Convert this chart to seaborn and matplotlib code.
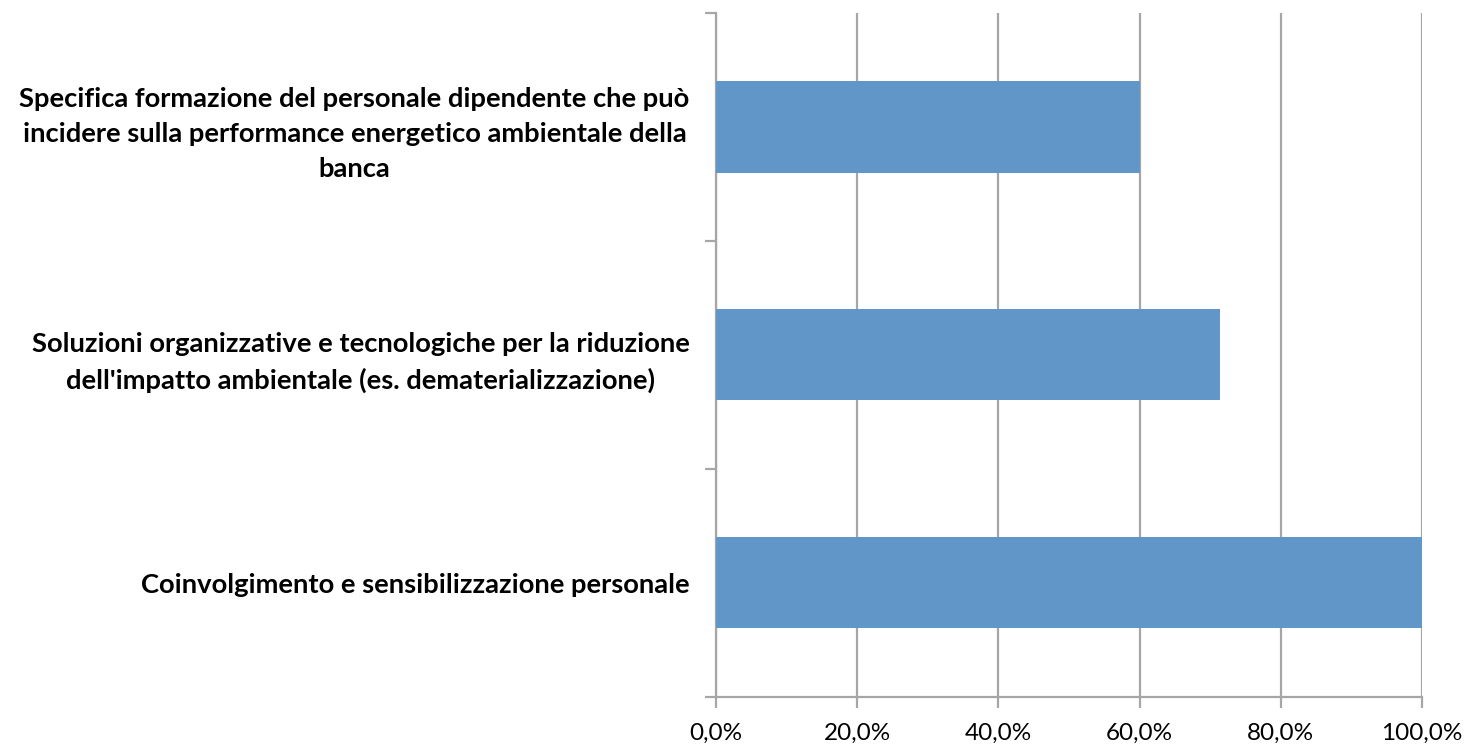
import matplotlib
matplotlib.use("Agg")
import matplotlib.pyplot as plt
import seaborn as sns
import pandas as pd
from matplotlib.ticker import FuncFormatter, FixedLocator

categories = [
    "Specifica formazione del personale dipendente che può\nincidere sulla performance energetico ambientale della\nbanca",
    "Soluzioni organizzative e tecnologiche per la riduzione\ndell'impatto ambientale (es. dematerializzazione)",
    "Coinvolgimento e sensibilizzazione personale",
]
values = [60.0, 71.4, 100.0]
x_ticks = [0, 20, 40, 60, 80, 100]

df = pd.DataFrame({"categoria": categories, "valore": values})

sns.set_style("white")
plt.rcParams["font.family"] = ["Lato", "DejaVu Sans"]
plt.rcParams["text.color"] = "black"
plt.rcParams["xtick.color"] = "black"
plt.rcParams["ytick.color"] = "black"

fig = plt.figure(figsize=(14.66, 7.45), dpi=100)
ax = fig.add_axes([716/1466, 1 - 696.7/745, (1422 - 716)/1466, (696.7 - 13)/745])

grid_c = "#A6A6A6"
sns.barplot(data=df, x="valore", y="categoria", orient="h", color="#6096C8",
            saturation=1, width=0.4, linewidth=0, ax=ax, zorder=3)

ax.set_xlim(0, 100)
ax.set_ylim(2.5, -0.5)
ax.xaxis.set_major_locator(FixedLocator(x_ticks))
ax.xaxis.set_major_formatter(FuncFormatter(lambda v, p: f"{v:.1f}%".replace(".", ",")))
ax.grid(axis="x", color=grid_c, linewidth=1.6, zorder=0)
ax.grid(axis="y", visible=False)
ax.set_axisbelow(True)
ax.set_xlabel("")
ax.set_ylabel("")

for s in ["top", "right"]:
    ax.spines[s].set_visible(False)
for s in ["left", "bottom"]:
    ax.spines[s].set_color(grid_c)
    ax.spines[s].set_linewidth(1.6)

ax.tick_params(axis="x", which="major", length=8, width=1.6, color=grid_c,
               labelcolor="black", labelsize=17.5, pad=11, bottom=True)
ax.tick_params(axis="y", which="major", length=0, labelsize=19.7, labelcolor="black", pad=19)
ax.yaxis.set_minor_locator(FixedLocator([-0.5, 0.5, 1.5, 2.5]))
ax.tick_params(axis="y", which="minor", length=8, width=1.6, color=grid_c, left=True)

for lab in ax.get_yticklabels():
    lab.set_fontweight("bold")
    lab.set_multialignment("center")
    lab.set_linespacing(1.55)

fig.savefig("out.png", dpi=100, facecolor="white")
